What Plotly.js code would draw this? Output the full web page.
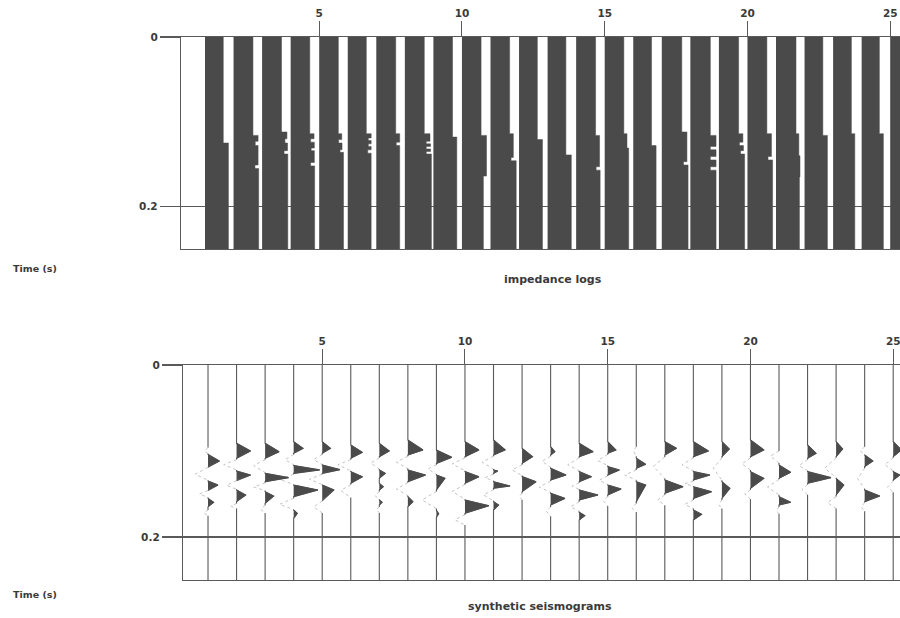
<!DOCTYPE html>
<html>
<head>
<meta charset="utf-8">
<script src="https://cdn.plot.ly/plotly-3.0.1.min.js"></script>
<style>html,body{margin:0;padding:0;background:#fff;}#chart{width:900px;height:618px;}</style>
</head>
<body>
<div id="chart"></div>
<script>
// Trace (well) numbers
const traceNumbers = [1,2,3,4,5,6,7,8,9,10,11,12,13,14,15,16,17,18,19,20,21,22,23,24,25];
const xTickValues = [5,10,15,20,25];
const timeTicks = [0, 0.2];
const timeTickLabels = ['0', '0.2'];
const timeMax = 0.25;

// Impedance logs: per trace, list of [start time (s), log width (trace units)]
const impedanceLogs = [
  [[0,0.64],[0.125,0.82]],
  [[0,0.68],[0.116,0.86],[0.123,0.76],[0.128,0.86],[0.151,0.75],[0.155,0.88]],
  [[0,0.68],[0.112,0.87],[0.120,0.80],[0.125,0.89],[0.134,0.77],[0.138,0.90]],
  [[0,0.67],[0.114,0.82],[0.120,0.70],[0.124,0.83],[0.131,0.72],[0.134,0.83],[0.148,0.70],[0.152,0.84]],
  [[0,0.67],[0.114,0.79],[0.121,0.68],[0.125,0.80],[0.133,0.73],[0.136,0.85]],
  [[0,0.65],[0.114,0.82],[0.119,0.72],[0.122,0.82],[0.126,0.72],[0.129,0.82],[0.133,0.70],[0.137,0.82]],
  [[0,0.68],[0.114,0.82],[0.124,0.70],[0.128,0.82]],
  [[0,0.68],[0.114,0.88],[0.123,0.75],[0.126,0.90],[0.129,0.75],[0.132,0.90],[0.135,0.75],[0.138,0.93]],
  [[0,0.67],[0.118,0.82]],
  [[0,0.67],[0.116,0.86],[0.164,0.75]],
  [[0,0.67],[0.114,0.80],[0.142,0.72],[0.146,0.90]],
  [[0,0.64],[0.121,0.82]],
  [[0,0.64],[0.139,0.83]],
  [[0,0.68],[0.116,0.82],[0.153,0.70],[0.157,0.84]],
  [[0,0.67],[0.114,0.78],[0.131,0.84]],
  [[0,0.64],[0.128,0.80]],
  [[0,0.70],[0.112,0.88],[0.147,0.76],[0.151,0.92]],
  [[0,0.70],[0.116,0.90],[0.129,0.70],[0.133,0.90],[0.141,0.70],[0.145,0.90],[0.153,0.70],[0.157,0.90]],
  [[0,0.69],[0.114,0.84],[0.124,0.72],[0.128,0.86],[0.134,0.76],[0.138,0.90]],
  [[0,0.68],[0.114,0.84],[0.141,0.72],[0.145,0.88]],
  [[0,0.70],[0.114,0.80],[0.140,0.84],[0.165,0.82]],
  [[0,0.64],[0.116,0.80]],
  [[0,0.64],[0.114,0.76]],
  [[0,0.62],[0.114,0.76]],
  [[0,0.64],[0.118,0.80]]
];

// Synthetic seismograms: per trace, lobes [start time, peak time, end time, amplitude (trace units)]
const seismogramLobes = [
  [[0.096,0.100,0.103,-0.12],[0.104,0.1117,0.1183,0.40],[0.119,0.127,0.134,-0.45],[0.135,0.1395,0.1454,0.35],[0.146,0.150,0.154,-0.30],[0.1551,0.1597,0.1648,0.20],[0.1686,0.172,0.1752,-0.15]],
  [[0.0911,0.100,0.1085,0.49],[0.110,0.116,0.122,-0.45],[0.1233,0.128,0.1337,0.49],[0.1345,0.140,0.1445,-0.35],[0.1454,0.1512,0.1589,0.32],[0.161,0.164,0.167,-0.20]],
  [[0.0911,0.1008,0.1085,0.49],[0.110,0.117,0.125,-0.40],[0.126,0.131,0.1357,0.82],[0.137,0.142,0.146,-0.40],[0.1473,0.1524,0.1608,0.30],[0.163,0.168,0.172,-0.15]],
  [[0.0891,0.0969,0.1027,0.33],[0.104,0.110,0.116,-0.30],[0.117,0.122,0.126,0.91],[0.127,0.133,0.139,-0.50],[0.1395,0.1454,0.1531,0.85],[0.155,0.162,0.168,-0.50],[0.1686,0.1725,0.1783,0.13]],
  [[0.0891,0.0969,0.1027,0.29],[0.104,0.110,0.1155,-0.30],[0.1163,0.1217,0.126,0.62],[0.127,0.133,0.139,-0.45],[0.1395,0.1454,0.157,0.41],[0.158,0.165,0.172,-0.30]],
  [[0.093,0.1016,0.1085,0.41],[0.110,0.116,0.123,-0.45],[0.124,0.130,0.1376,0.41],[0.139,0.146,0.154,-0.35]],
  [[0.0911,0.100,0.1066,0.35],[0.108,0.114,0.121,-0.30],[0.1221,0.126,0.1318,0.21],[0.1376,0.1415,0.1454,0.14],[0.147,0.152,0.156,-0.15],[0.157,0.1597,0.1628,0.10],[0.165,0.168,0.172,-0.10]],
  [[0.0872,0.0988,0.1047,0.53],[0.106,0.113,0.1205,-0.40],[0.1221,0.128,0.1357,0.62],[0.137,0.144,0.152,-0.40],[0.1531,0.1589,0.1647,0.18]],
  [[0.0989,0.1074,0.1144,0.54],[0.116,0.121,0.127,-0.30],[0.1279,0.1318,0.1454,0.30],[0.147,0.157,0.167,-0.50],[0.169,0.173,0.177,0.08]],
  [[0.0891,0.0988,0.1066,0.49],[0.108,0.115,0.123,-0.45],[0.124,0.1299,0.1376,0.49],[0.139,0.147,0.156,-0.45],[0.157,0.1636,0.1725,0.84],[0.174,0.180,0.186,-0.35]],
  [[0.0872,0.0988,0.1047,0.41],[0.106,0.113,0.121,-0.40],[0.122,0.1233,0.126,0.15],[0.127,0.131,0.1345,-0.30],[0.1357,0.1407,0.1434,0.58],[0.145,0.151,0.158,-0.35],[0.1589,0.1628,0.1686,0.18]],
  [[0.0969,0.1066,0.1144,0.37],[0.116,0.122,0.1285,-0.35],[0.1298,0.1357,0.1473,0.49],[0.149,0.153,0.157,-0.10]],
  [[0.095,0.1008,0.1047,0.15],[0.106,0.112,0.119,-0.30],[0.1202,0.128,0.1337,0.54],[0.135,0.142,0.148,-0.40],[0.1492,0.1551,0.1628,0.50],[0.165,0.170,0.176,-0.15]],
  [[0.0911,0.1008,0.1066,0.49],[0.108,0.116,0.123,-0.40],[0.124,0.1299,0.1357,0.43],[0.137,0.141,0.1445,-0.25],[0.1453,0.1512,0.157,0.66],[0.159,0.165,0.170,-0.30],[0.1713,0.1752,0.1802,0.20]],
  [[0.0891,0.0988,0.1027,0.29],[0.104,0.111,0.117,-0.35],[0.1182,0.1221,0.1279,0.41],[0.129,0.134,0.139,-0.30],[0.1395,0.1442,0.1512,0.47],[0.153,0.158,0.164,-0.15]],
  [[0.095,0.100,0.106,-0.10],[0.1085,0.1155,0.1202,0.33],[0.122,0.128,0.134,-0.40],[0.1357,0.1395,0.1589,0.33],[0.161,0.166,0.171,-0.15]],
  [[0.0891,0.0969,0.1047,0.41],[0.107,0.118,0.132,-0.40],[0.1337,0.1415,0.1492,0.64],[0.151,0.157,0.163,-0.25]],
  [[0.0891,0.100,0.1066,0.53],[0.108,0.116,0.123,-0.40],[0.124,0.128,0.1337,0.58],[0.135,0.138,0.141,-0.30],[0.1415,0.1473,0.1551,0.64],[0.157,0.162,0.167,-0.30],[0.1686,0.1736,0.1802,0.29]],
  [[0.0891,0.0977,0.1066,0.26],[0.108,0.120,0.134,-0.30],[0.1357,0.1434,0.1551,0.28],[0.157,0.162,0.167,-0.12]],
  [[0.0872,0.0988,0.1066,0.47],[0.108,0.115,0.122,-0.30],[0.124,0.1318,0.1434,0.47],[0.145,0.150,0.156,-0.20]],
  [[0.100,0.106,0.114,-0.30],[0.1163,0.1248,0.1318,0.41],[0.133,0.142,0.151,-0.40],[0.1531,0.1597,0.1628,0.41],[0.165,0.169,0.173,-0.10]],
  [[0.093,0.1027,0.1085,0.30],[0.110,0.117,0.123,-0.30],[0.124,0.131,0.1376,0.82],[0.139,0.145,0.151,-0.20]],
  [[0.0891,0.0977,0.1066,0.23],[0.108,0.120,0.131,-0.40],[0.1318,0.1395,0.1512,0.27],[0.153,0.160,0.167,-0.30]],
  [[0.095,0.100,0.104,-0.15],[0.1047,0.1117,0.1182,0.29],[0.120,0.132,0.144,-0.25],[0.1454,0.1524,0.1589,0.53],[0.160,0.165,0.170,-0.12]],
  [[0.0891,0.0988,0.1066,0.29],[0.108,0.116,0.123,-0.30],[0.124,0.128,0.1337,0.23],[0.135,0.142,0.148,-0.20]]
];

// ---- build geometry from the data ----
const barX = [], barY = [];
traceNumbers.forEach((n, k) => {
  const steps = impedanceLogs[k];
  barX.push(n); barY.push(0);
  steps.forEach((s, j) => {
    const tEnd = j + 1 < steps.length ? steps[j + 1][0] : timeMax;
    barX.push(n + s[1], n + s[1]); barY.push(s[0], tEnd);
  });
  barX.push(n, null); barY.push(timeMax, null);
});

const wigX = [], wigY = [], fillX = [], fillY = [], negX = [], negY = [];
traceNumbers.forEach((n, k) => {
  wigX.push(n); wigY.push(0);
  seismogramLobes[k].forEach(l => {
    const [ts, tp, te, a] = l;
    if (a > 0) {
      wigX.push(n, n + a, n); wigY.push(ts, tp, te);
      fillX.push(n, n + a, n, null); fillY.push(ts, tp, te, null);
    } else {
      wigX.push(n, null, n); wigY.push(ts, null, te);
      negX.push(n, n + a, n, null); negY.push(ts, tp, te, null);
    }
  });
  wigX.push(n, null); wigY.push(timeMax, null);
});

const dark = '#4a4a4a';
const axisColor = '#5a5a5a';
const tickFont = {family: 'DejaVu Sans, sans-serif', size: 10.5, color: '#3a3a3a', weight: 'bold'};
const titleFont = {family: 'DejaVu Sans, sans-serif', size: 11, color: '#3a3a3a', weight: 'bold'};
const sideFont = {family: 'DejaVu Sans, sans-serif', size: 9.5, color: '#3a3a3a', weight: 'bold'};

const data = [
  {type: 'scatter', mode: 'lines', x: barX, y: barY, xaxis: 'x', yaxis: 'y',
   fill: 'toself', fillcolor: dark, line: {color: dark, width: 0.5}, hoverinfo: 'skip'},
  {type: 'scatter', mode: 'lines', x: negX, y: negY, xaxis: 'x2', yaxis: 'y2',
   line: {color: '#c4c4c4', width: 1, dash: 'dot'}, hoverinfo: 'skip'},
  {type: 'scatter', mode: 'lines', x: wigX, y: wigY, xaxis: 'x2', yaxis: 'y2',
   line: {color: '#5a5a5a', width: 1.1}, hoverinfo: 'skip'},
  {type: 'scatter', mode: 'lines', x: fillX, y: fillY, xaxis: 'x2', yaxis: 'y2',
   fill: 'toself', fillcolor: dark, line: {color: dark, width: 0.8}, hoverinfo: 'skip'}
];

const xCommon = {
  side: 'top', tickvals: xTickValues, ticks: 'outside', ticklen: 15, tickwidth: 1,
  tickcolor: axisColor, showline: true, mirror: true, linecolor: axisColor, linewidth: 1.2,
  showgrid: false, zeroline: false, tickfont: tickFont, fixedrange: true,
  ticklabeloverflow: 'allow'
};
const yCommon = {
  range: [timeMax, 0], tickvals: timeTicks, ticktext: timeTickLabels, ticks: 'outside',
  ticklen: 20, tickwidth: 1.2, tickcolor: axisColor, showgrid: true, gridcolor: axisColor, gridwidth: 1.2,
  showline: true, linecolor: axisColor, linewidth: 1.2, zeroline: false, tickfont: tickFont, fixedrange: true
};

const layout = {
  width: 900, height: 618,
  margin: {l: 181, r: 0, t: 0, b: 0},
  paper_bgcolor: '#fff', plot_bgcolor: 'rgba(0,0,0,0)',
  showlegend: false,
  xaxis: Object.assign({}, xCommon, {domain: [0, 1], anchor: 'y', range: [0.1594, 25.343]}),
  yaxis: Object.assign({}, yCommon, {domain: [0.5971, 0.9401], anchor: 'x'}),
  xaxis2: Object.assign({}, xCommon, {domain: [0.0028, 1], anchor: 'y2', range: [0.1243, 25.238]}),
  yaxis2: Object.assign({}, yCommon, {domain: [0.0615, 0.4094], anchor: 'x2'}),
  annotations: [
    {text: 'Time (s)', xref: 'paper', yref: 'paper', x: -0.203, y: 0.5663, xanchor: 'center', yanchor: 'middle', showarrow: false, font: sideFont},
    {text: 'Time (s)', xref: 'paper', yref: 'paper', x: -0.203, y: 0.0388, xanchor: 'center', yanchor: 'middle', showarrow: false, font: sideFont},
    {text: 'impedance logs', xref: 'paper', yref: 'paper', x: 0.5174, y: 0.5485, xanchor: 'center', yanchor: 'middle', showarrow: false, font: titleFont},
    {text: 'synthetic seismograms', xref: 'paper', yref: 'paper', x: 0.4993, y: 0.0194, xanchor: 'center', yanchor: 'middle', showarrow: false, font: titleFont}
  ]
};

Plotly.newPlot('chart', data, layout, {staticPlot: true, displayModeBar: false});
</script>
</body>
</html>
